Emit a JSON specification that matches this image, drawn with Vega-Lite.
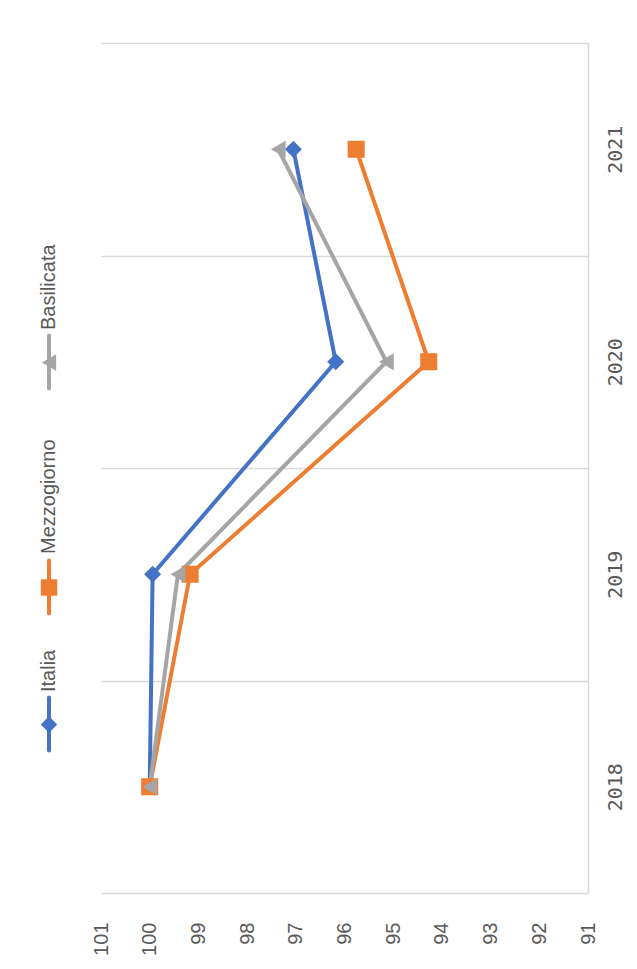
{
  "$schema": "https://vega.github.io/schema/vega-lite/v6.json",
  "padding": {"left": 10, "top": 42, "right": 5, "bottom": 5},
  "background": "white",
  "spacing": 13,
  "bounds": "flush",
  "config": {"view": {"stroke": null}, "font": "Liberation Sans"},
  "hconcat": [
    {
      "width": 78,
      "height": 850,
      "data": {"values": [
        {"series": "Italia", "lo": 142.5, "hi": 195.5, "mid": 168.5, "txt": 201},
        {"series": "Mezzogiorno", "lo": 279.5, "hi": 332.5, "mid": 305.5, "txt": 339},
        {"series": "Basilicata", "lo": 504.5, "hi": 557.5, "mid": 530.5, "txt": 563}
      ]},
      "layer": [
        {
          "mark": {"type": "rule", "strokeWidth": 4, "strokeCap": "round"},
          "encoding": {
            "y": {"field": "lo", "type": "quantitative", "scale": {"domain": [0, 850], "nice": false}, "axis": null},
            "y2": {"field": "hi"},
            "color": {"field": "series", "type": "nominal", "scale": {"domain": ["Italia", "Mezzogiorno", "Basilicata"], "range": ["#4472C4", "#ED7D31", "#A5A5A5"]}, "legend": null}
          }
        },
        {
          "mark": {"type": "point", "filled": true, "opacity": 1, "size": 270},
          "encoding": {
            "y": {"field": "mid", "type": "quantitative", "axis": null},
            "color": {"field": "series", "type": "nominal", "scale": {"domain": ["Italia", "Mezzogiorno", "Basilicata"], "range": ["#4472C4", "#ED7D31", "#A5A5A5"]}, "legend": null},
            "shape": {"field": "series", "type": "nominal", "scale": {"domain": ["Italia", "Mezzogiorno", "Basilicata"], "range": ["diamond", "square", "triangle-left"]}, "legend": null}
          }
        },
        {
          "mark": {"type": "text", "angle": 270, "align": "left", "baseline": "middle", "fontSize": 20, "color": "#595959", "font": "Liberation Sans"},
          "encoding": {
            "y": {"field": "txt", "type": "quantitative", "axis": null},
            "text": {"field": "series", "type": "nominal"}
          }
        }
      ]
    },
    {
      "width": 487,
      "height": 850,
      "data": {"values": [
        {"series": "Italia", "year": 2018, "value": 100},
        {"series": "Italia", "year": 2019, "value": 99.94},
        {"series": "Italia", "year": 2020, "value": 96.18},
        {"series": "Italia", "year": 2021, "value": 97.05},
        {"series": "Mezzogiorno", "year": 2018, "value": 100},
        {"series": "Mezzogiorno", "year": 2019, "value": 99.17},
        {"series": "Mezzogiorno", "year": 2020, "value": 94.27},
        {"series": "Mezzogiorno", "year": 2021, "value": 95.76},
        {"series": "Basilicata", "year": 2018, "value": 100},
        {"series": "Basilicata", "year": 2019, "value": 99.42},
        {"series": "Basilicata", "year": 2020, "value": 95.14},
        {"series": "Basilicata", "year": 2021, "value": 97.36}
      ]},
      "encoding": {
        "x": {
          "field": "value", "type": "quantitative",
          "scale": {"domain": [91, 101], "reverse": true, "nice": false, "zero": false},
          "axis": {
            "orient": "bottom", "title": null, "values": [91, 92, 93, 94, 95, 96, 97, 98, 99, 100, 101],
            "grid": false, "ticks": false, "tickSize": 0, "domain": false,
            "labelAngle": 270, "labelAlign": "right", "labelBaseline": "middle",
            "labelPadding": 29, "labelFont": "Liberation Sans", "labelFontSize": 20, "labelColor": "#595959",
            "labelFlush": false, "labelOverlap": false, "labelBound": false
          }
        },
        "y": {
          "field": "year", "type": "ordinal", "sort": "descending",
          "scale": {"type": "band", "paddingInner": 0, "paddingOuter": 0},
          "axis": {
            "orient": "right", "title": null, "tickBand": "extent",
            "grid": true, "gridColor": "#D9D9D9", "gridWidth": 1.5,
            "ticks": false, "tickSize": 0, "domain": true, "domainColor": "#D9D9D9", "domainWidth": 1.5,
            "labelAngle": 270, "labelAlign": "center", "labelBaseline": "top",
            "labelPadding": 17, "labelFont": "DejaVu Sans Mono", "labelFontSize": 20, "labelColor": "#595959",
            "labelOverlap": false, "labelBound": false
          }
        },
        "color": {"field": "series", "type": "nominal", "scale": {"domain": ["Italia", "Mezzogiorno", "Basilicata"], "range": ["#4472C4", "#ED7D31", "#A5A5A5"]}, "legend": null}
      },
      "layer": [
        {
          "mark": {"type": "line", "strokeWidth": 4, "strokeJoin": "round", "strokeCap": "round"},
          "encoding": {"order": {"field": "year", "type": "ordinal"}}
        },
        {
          "mark": {"type": "point", "filled": true, "opacity": 1, "size": 290},
          "encoding": {
            "shape": {"field": "series", "type": "nominal", "scale": {"domain": ["Italia", "Mezzogiorno", "Basilicata"], "range": ["diamond", "square", "triangle-left"]}, "legend": null}
          }
        }
      ]
    }
  ]
}
